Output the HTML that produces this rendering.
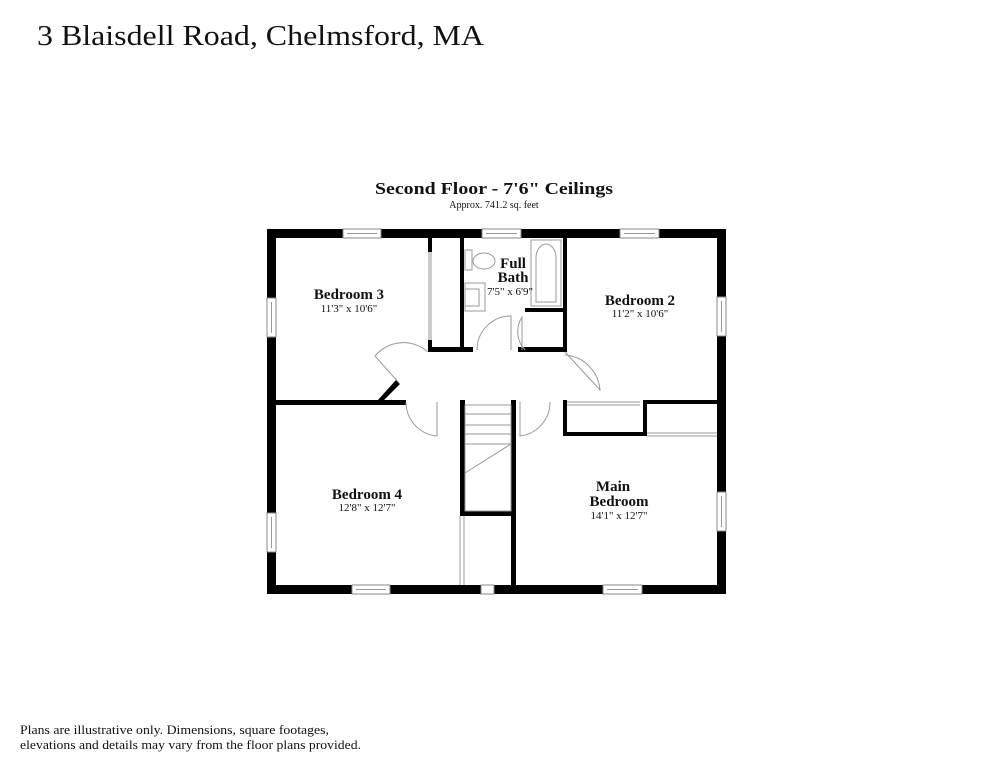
<!DOCTYPE html>
<html><head><meta charset="utf-8"><style>
html,body{margin:0;padding:0;background:#fff;}
svg{display:block;}
text{font-family:"Liberation Serif",serif;fill:#111;}
</style></head><body>
<svg width="994" height="768" viewBox="0 0 994 768" xmlns="http://www.w3.org/2000/svg">
<text x="37" y="45" font-size="28" textLength="447" lengthAdjust="spacingAndGlyphs">3 Blaisdell Road, Chelmsford, MA</text>
<text x="494" y="194" font-size="17" font-weight="bold" text-anchor="middle" textLength="238" lengthAdjust="spacingAndGlyphs">Second Floor - 7'6" Ceilings</text>
<text x="494" y="208" font-size="10" text-anchor="middle">Approx. 741.2 sq. feet</text>
<text x="20" y="734" font-size="13" textLength="309" lengthAdjust="spacingAndGlyphs">Plans are illustrative only. Dimensions, square footages,</text>
<text x="20" y="749" font-size="13" textLength="341" lengthAdjust="spacingAndGlyphs">elevations and details may vary from the floor plans provided.</text>

<g fill="#000">
<rect x="267" y="229" width="459" height="9"/>
<rect x="267" y="585" width="459" height="9"/>
<rect x="267" y="229" width="9" height="365"/>
<rect x="717" y="229" width="9" height="365"/>
<rect x="276" y="400" width="130" height="5"/>
<polygon points="378,400 384,400 400,384 396,380"/>
<rect x="428" y="238" width="4" height="14"/>
<rect x="428" y="340" width="4" height="12"/>
<rect x="428" y="347" width="45" height="5"/>
<rect x="460" y="238" width="4" height="114"/>
<rect x="518" y="347" width="49" height="5"/>
<rect x="563" y="238" width="4" height="114"/>
<rect x="525" y="308" width="42" height="4"/>
<rect x="460" y="400" width="5" height="116"/>
<rect x="460" y="511" width="56" height="5"/>
<rect x="511" y="400" width="5" height="185"/>
<rect x="563" y="400" width="4" height="36"/>
<rect x="563" y="432" width="84" height="4"/>
<rect x="643" y="400" width="4" height="36"/>
<rect x="643" y="400" width="74" height="4"/>
</g>
<g fill="#fff" stroke="#888" stroke-width="1">
<rect x="343" y="229" width="38" height="9"/>
<rect x="482" y="229" width="39" height="9"/>
<rect x="620" y="229" width="39" height="9"/>
<rect x="267" y="298" width="9" height="39"/>
<rect x="267" y="513" width="9" height="39"/>
<rect x="717" y="297" width="9" height="39"/>
<rect x="717" y="492" width="9" height="39"/>
<rect x="352" y="585" width="38" height="9"/>
<rect x="603" y="585" width="39" height="9"/>
<rect x="481" y="585" width="13" height="9"/>
</g>
<g fill="none" stroke="#999" stroke-width="1">
<line x1="347" y1="233.5" x2="377" y2="233.5"/><line x1="486" y1="233.5" x2="517" y2="233.5"/><line x1="624" y1="233.5" x2="655" y2="233.5"/>
<line x1="271.5" y1="302" x2="271.5" y2="333"/><line x1="271.5" y1="517" x2="271.5" y2="548"/>
<line x1="721.5" y1="301" x2="721.5" y2="332"/><line x1="721.5" y1="496" x2="721.5" y2="527"/>
<line x1="356" y1="589.5" x2="386" y2="589.5"/><line x1="607" y1="589.5" x2="638" y2="589.5"/>
<line x1="429" y1="252" x2="429" y2="340"/><line x1="431" y1="252" x2="431" y2="340"/>
<line x1="460" y1="516" x2="460" y2="585"/><line x1="464" y1="516" x2="464" y2="585"/>
<line x1="567" y1="402" x2="640" y2="402"/><line x1="567" y1="405" x2="640" y2="405"/>
<line x1="647" y1="433" x2="717" y2="433"/><line x1="647" y1="436" x2="717" y2="436"/>
<path d="M400,384 L375,356 A37,37 0 0 1 428,352"/>
<path d="M437,402 L437,436 A34,34 0 0 1 406,402"/>
<path d="M520,402 L520,436 A34,34 0 0 0 550,402"/>
<path d="M565,352 L600,390 A38,38 0 0 0 565,355"/>
<path d="M477,350 A34,34 0 0 1 511,316 L511,350"/>
<path d="M525,350 A27,27 0 0 1 522,317 L522,350"/>
<rect x="465" y="405" width="46" height="106"/>
<line x1="465" y1="414" x2="511" y2="414"/><line x1="465" y1="425" x2="511" y2="425"/>
<line x1="465" y1="434" x2="511" y2="434"/><line x1="465" y1="444" x2="511" y2="444"/>
<line x1="465" y1="473" x2="511" y2="444"/>
<rect x="531" y="240" width="30" height="66"/>
<path d="M536,302 L536,258 A10,14 0 0 1 556,258 L556,302 Z"/>
<rect x="465" y="250" width="7" height="20"/>
<ellipse cx="484" cy="261" rx="11" ry="8"/>
<rect x="465" y="283" width="20" height="28"/>
<rect x="465" y="289" width="14" height="17"/>
</g>
<g font-weight="bold" text-anchor="middle">
<text x="349" y="299" font-size="15">Bedroom 3</text>
<text x="513" y="268" font-size="15">Full</text>
<text x="513" y="282" font-size="15">Bath</text>
<text x="640" y="305" font-size="15">Bedroom 2</text>
<text x="367" y="499" font-size="15">Bedroom 4</text>
<text x="613" y="491" font-size="15">Main</text>
<text x="619" y="506" font-size="15">Bedroom</text>
</g>
<g text-anchor="middle" font-size="11">
<text x="349" y="312">11'3" x 10'6"</text>
<text x="510" y="295">7'5" x 6'9"</text>
<text x="640" y="317">11'2" x 10'6"</text>
<text x="367" y="511">12'8" x 12'7"</text>
<text x="619" y="519">14'1" x 12'7"</text>
</g>
</svg>
</body></html>
